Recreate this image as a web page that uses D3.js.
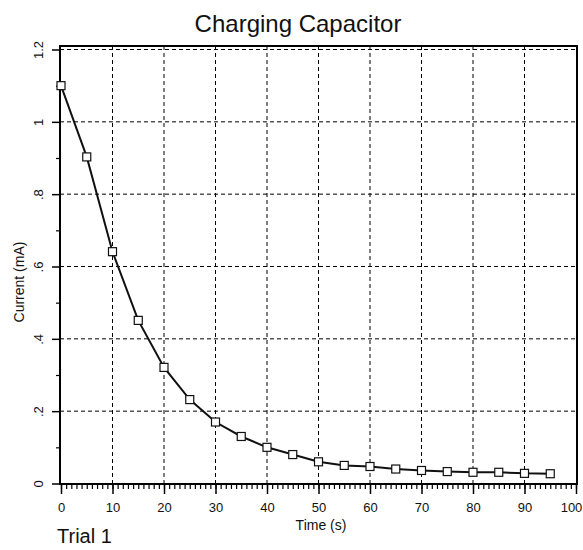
<!DOCTYPE html>
<html>
<head>
<meta charset="utf-8">
<script src="https://cdn.jsdelivr.net/npm/d3@7"></script>
<style>
  body { margin: 0; background: #fff; }
  svg { font-family: "Liberation Sans", Arial, Helvetica, sans-serif; }
</style>
</head>
<body>
<svg id="chart" width="583" height="550"></svg>
<script>
// time (s) and current (mA)
const times = [0, 5, 10, 15, 20, 25, 30, 35, 40, 45, 50, 55, 60, 65, 70, 75, 80, 85, 90, 95];
const current = [1.10, 0.903, 0.641, 0.451, 0.321, 0.232, 0.170, 0.130, 0.100, 0.080,
                 0.060, 0.050, 0.047, 0.040, 0.036, 0.033, 0.031, 0.031, 0.028, 0.027];
const xTicks = [0, 10, 20, 30, 40, 50, 60, 70, 80, 90, 100];
const yTicks = [0, 0.2, 0.4, 0.6, 0.8, 1, 1.2];
const yTickLabels = ["0", ".2", ".4", ".6", ".8", "1", "1.2"];

const svg = d3.select("#chart");

const x = d3.scaleLinear().domain([0, 100]).range([61, 576]);
const y = d3.scaleLinear().domain([0, 1.2]).range([483.5, 49.5]);

// gridlines
const grid = svg.append("g").attr("class", "grid")
  .attr("stroke", "#000").attr("stroke-width", 1).attr("stroke-dasharray", "4,3");
grid.selectAll("line.v")
  .data(xTicks.filter(d => d > 0 && d < 100))
  .enter().append("line")
  .attr("class", "v")
  .attr("x1", d => x(d)).attr("x2", d => x(d))
  .attr("y1", 46).attr("y2", 484);
grid.selectAll("line.h")
  .data(yTicks.filter(d => d > 0))
  .enter().append("line")
  .attr("class", "h")
  .attr("x1", 60).attr("x2", 577)
  .attr("y1", d => y(d)).attr("y2", d => y(d));

// frame
svg.append("rect")
  .attr("x", 60).attr("y", 46).attr("width", 517).attr("height", 438)
  .attr("fill", "none").attr("stroke", "#000").attr("stroke-width", 2);

// x axis: minor ticks every 1 s, major every 10 s
const xMinor = d3.axisBottom(x).tickValues(d3.range(0, 101, 1)).tickSize(5).tickFormat("");
svg.append("g").attr("transform", "translate(0,484)").call(xMinor)
  .call(g => g.select(".domain").remove())
  .call(g => g.selectAll("line").attr("stroke-width", 1.2));

const xAxis = d3.axisBottom(x).tickValues(xTicks).tickSize(10).tickFormat(d3.format("d"));
svg.append("g").attr("transform", "translate(0,484)").call(xAxis)
  .call(g => g.select(".domain").remove())
  .call(g => g.selectAll("line").attr("stroke-width", 1.5))
  .call(g => g.selectAll("text")
    .attr("y", 28).attr("dy", 0)
    .attr("dx", d => d === 100 ? -5 : 0)
    .attr("font-size", 13).attr("fill", "#111"));

// y axis: minor ticks at .1, major at .2
const yMinor = d3.axisLeft(y).tickValues(d3.range(1, 12, 2).map(d => d / 10)).tickSize(4).tickFormat("");
svg.append("g").attr("transform", "translate(60,0)").call(yMinor)
  .call(g => g.select(".domain").remove())
  .call(g => g.selectAll("line").attr("stroke-width", 1.2));

const yAxis = d3.axisLeft(y).tickValues(yTicks).tickSize(8)
  .tickFormat((d, i) => yTickLabels[i]);
svg.append("g").attr("transform", "translate(60,0)").call(yAxis)
  .call(g => g.select(".domain").remove())
  .call(g => g.selectAll("line").attr("stroke-width", 1.5))
  .call(g => g.selectAll("text")
    .attr("x", 0).attr("dy", 0)
    .attr("transform", "translate(-17,0) rotate(-90)")
    .attr("text-anchor", "middle")
    .attr("font-size", 13).attr("fill", "#111"));

// the curve
const line = d3.line().x((d, i) => x(times[i])).y(d => y(d));
svg.append("path")
  .datum(current)
  .attr("d", line)
  .attr("fill", "none").attr("stroke", "#111").attr("stroke-width", 2);

const s = 8;
svg.selectAll("rect.pt")
  .data(current)
  .enter().append("rect")
  .attr("class", "pt")
  .attr("x", (d, i) => x(times[i]) - s / 2)
  .attr("y", d => y(d) - s / 2)
  .attr("width", s).attr("height", s)
  .attr("fill", "#fff").attr("stroke", "#111").attr("stroke-width", 1.2);

// texts
svg.append("text")
  .attr("x", 298).attr("y", 32)
  .attr("text-anchor", "middle").attr("font-size", 24).attr("fill", "#111")
  .text("Charging Capacitor");

svg.append("text")
  .attr("x", 321).attr("y", 530)
  .attr("text-anchor", "middle").attr("font-size", 14).attr("fill", "#111")
  .text("Time (s)");

svg.append("text")
  .attr("transform", "translate(24,282) rotate(-90)")
  .attr("text-anchor", "middle").attr("font-size", 14).attr("fill", "#111")
  .text("Current (mA)");

svg.append("text")
  .attr("x", 57).attr("y", 543)
  .attr("font-size", 20).attr("fill", "#111")
  .text("Trial 1");
</script>
</body>
</html>
